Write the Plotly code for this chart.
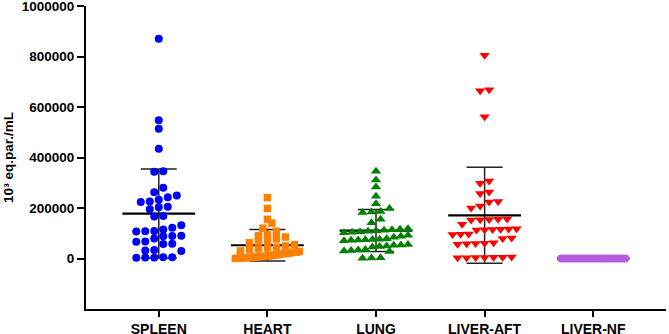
import numpy as np
import plotly.graph_objects as go

categories = ["SPLEEN", "HEART", "LUNG", "LIVER-AFT", "LIVER-NF"]

spleen = [870000, 548000, 514000, 435000, 346000, 344000, 280000, 262000, 250000, 243000,
          233000, 226000, 224000, 205000, 203000, 195000, 168000, 166000, 132000, 122000,
          115000, 109000, 108000, 107000, 90000, 89000, 88000, 79000, 67000, 66000,
          58000, 57000, 34000, 32000, 30000, 5000, 5000, 4000, 4000, 3000]
heart = [241000, 198000, 155000, 140000, 120000, 108000, 95000, 90000, 85000, 78000,
         72000, 68000, 62000, 55000, 50000, 45000, 42000, 38000, 35000, 30000,
         28000, 25000, 25000, 22000, 20000, 20000, 18000, 15000, 14000, 12000,
         10000, 9000, 8000, 8000, 6000, 5000, 4000, 3000, 3000, 2000, 1000, 500]
lung = [346000, 311000, 283000, 247000, 217000, 198000, 186000, 184000, 182000, 155000,
        142000, 118000, 116000, 114000, 112000, 110000, 108000, 106000, 104000, 102000,
        92000, 88000, 84000, 78000, 76000, 75000, 74000, 73000, 72000, 70000,
        55000, 53000, 52000, 50000, 48000, 46000, 36000, 34000, 32000, 30000,
        28000, 3000, 2000, 1000]
liver_aft = [805000, 668000, 664000, 561000, 307000, 298000, 263000, 257000, 226000, 224000,
             208000, 200000, 156000, 155000, 154000, 153000, 152000, 136000, 118000, 117000,
             116000, 115000, 114000, 113000, 97000, 96000, 95000, 81000, 79000, 62000,
             60000, 59000, 58000, 56000, 6000, 5000, 5000, 4000, 4000, 3000, 3000]
liver_nf = [0] * 24

means = [178000, 52500, 110700, 171000, 0]
sds = [176000, 62000, 83000, 190000, 0]

y_tick_vals = [0, 200000, 400000, 600000, 800000, 1000000]
y_tick_text = ["0", "200000", "400000", "600000", "800000", "1000000"]

colors = ["#0000FF", "#FF8000", "#008000", "#FF0000", "#B65CDD"]
symbols = ["circle", "square", "triangle-up", "triangle-down", "circle"]
sizes = [8, 7.5, 9, 9, 8]

W, H = 669, 334
ML, MR, MT, MB = 86, 3, 6, 25
YMIN, YMAX = -200000, 1000000
XMIN, XMAX = -0.67, 4.67
px_per_y = (H - MT - MB) / (YMAX - YMIN)
px_per_x = (W - ML - MR) / (XMAX - XMIN)


def swarm(vals, row_h=7.0, step=9.0, cap=32.0):
    """GraphPad-like scatter: bin points into rows, spread each row symmetrically."""
    ypx = np.asarray(vals, float) * px_per_y
    order = np.argsort(ypx)
    xs = np.zeros(len(ypx))
    rows, cur, start = [], [], None
    for i in order:
        if start is None or ypx[i] - start >= row_h:
            if cur:
                rows.append(cur)
            cur, start = [i], ypx[i]
        else:
            cur.append(i)
    if cur:
        rows.append(cur)
    for row in rows:
        n = len(row)
        st = step
        if n > 1 and (n - 1) / 2 * st > cap:
            st = 2 * cap / (n - 1)
        for k, idx in enumerate(row):
            xs[idx] = (k - (n - 1) / 2) * st
    return xs / px_per_x


groups = [spleen, heart, lung, liver_aft, liver_nf]

fig = go.Figure()

for i, (m, s) in enumerate(zip(means, sds)):
    fig.add_trace(go.Scatter(
        x=[i], y=[m], mode="markers", marker=dict(size=0.1, color="rgba(0,0,0,0)"),
        error_y=dict(type="data", array=[s], visible=True, color="#222222", thickness=1.5, width=18),
        showlegend=False, hoverinfo="skip"))
    fig.add_trace(go.Scatter(
        x=[i], y=[m], mode="markers", marker=dict(size=0.1, color="rgba(0,0,0,0)"),
        error_x=dict(type="data", array=[0.335], visible=True, color="#000000", thickness=2.2, width=0),
        showlegend=False, hoverinfo="skip"))

for i, vals in enumerate(groups):
    off = swarm(vals)
    fig.add_trace(go.Scatter(
        x=i + off, y=vals, mode="markers",
        marker=dict(symbol=symbols[i], size=sizes[i], color=colors[i], line=dict(width=0)),
        showlegend=False, name=categories[i]))

font_family = "Arial, Liberation Sans, sans-serif"
fig.update_layout(
    width=W, height=H, margin=dict(l=ML, r=MR, t=MT, b=MB),
    plot_bgcolor="white", paper_bgcolor="white",
    font=dict(family=font_family, color="black"),
    xaxis=dict(range=[XMIN, XMAX], tickvals=list(range(len(categories))), ticktext=categories,
               automargin=False, ticklabeloverflow="allow",
               showgrid=False, zeroline=False, showline=True, linecolor="black", linewidth=2,
               ticks="outside", ticklen=6, tickwidth=2, tickcolor="black",
               tickfont=dict(size=14, weight="bold", family=font_family)),
    yaxis=dict(range=[YMIN, YMAX], tickvals=y_tick_vals, ticktext=y_tick_text,
               automargin=False, ticklabeloverflow="allow",
               showgrid=False, zeroline=False, showline=True, linecolor="black", linewidth=2,
               ticks="outside", ticklen=7, tickwidth=2, tickcolor="black",
               tickfont=dict(size=13.5, weight="bold", family=font_family),
               title=dict(text="10³ eq.par./mL", standoff=5,
                          font=dict(size=13.5, weight="bold", family=font_family))),
)

fig.write_html("out.html", config={"displayModeBar": False},
               post_script="document.body.style.margin='0';document.body.style.padding='0';")
